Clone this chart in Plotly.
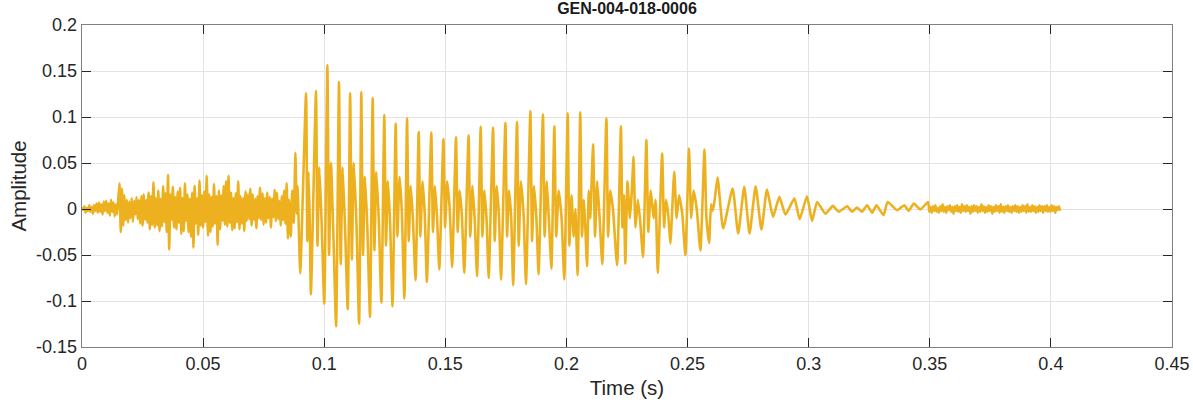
import numpy as np
import plotly.graph_objects as go

# ---------------- data ----------------
# Early unvoiced noise: samples every 0.0005 s starting at t = 0
noise1_start = 0.0
noise1_step = 0.0005
noise1_vals = [
    0.002, -0.001, 0.003, -0.004, 0.001, -0.002, 0.004, -0.003, 0.002, -0.005,
    0.004, -0.002, 0.006, -0.004, 0.007, -0.003, 0.005, -0.006, 0.008, -0.002,
    0.009, -0.004, 0.006, -0.007, 0.010, -0.003, 0.007, -0.008, 0.005, -0.006,
    0.012, 0.028, -0.025, 0.022, -0.018, 0.015, -0.012, 0.010, -0.015, 0.008,
    -0.010, 0.012, -0.014, 0.009, -0.006, 0.013, -0.011, 0.010, -0.016, 0.014,
    -0.018, 0.016, -0.012, 0.010, -0.015, 0.018, -0.022, 0.014, -0.017, 0.029,
    -0.020, 0.012, -0.018, 0.020, -0.024, 0.011, -0.019, 0.025, -0.014, 0.017,
    -0.025, 0.037, -0.044, 0.016, -0.012, 0.024, -0.020, 0.013, -0.022, 0.019,
    -0.015, 0.023, -0.027, 0.012, -0.024, 0.028, -0.013, 0.016, -0.025, 0.011,
    -0.030, 0.018, -0.042, 0.025, -0.016, 0.012, -0.028, 0.031, -0.018, 0.015,
    -0.020, 0.019, -0.014, 0.036, -0.029, 0.016, -0.025, 0.013, -0.019, 0.027,
    -0.016, 0.014, -0.039, 0.020, -0.022, 0.015, -0.013, 0.025, -0.017, 0.030,
    -0.019, 0.036, -0.015, 0.018, -0.023, 0.012, -0.021, 0.017, -0.014, 0.030,
    -0.022, 0.014, -0.016, 0.012, -0.024, 0.019, -0.013, 0.016, -0.011, 0.022,
    -0.018, 0.016, -0.012, 0.011, -0.021, 0.014, -0.010, 0.023, -0.012, 0.017,
    -0.017, 0.012, -0.015, 0.018, -0.010, 0.013, -0.020, 0.011, -0.009, 0.021,
    -0.013, 0.018, -0.011, 0.009, -0.018, 0.014, -0.012, 0.020, -0.016, 0.028,
    -0.032,
]

# Voiced part: (time, amplitude) extrema
voiced_t = [
    0.0855, 0.0862, 0.0868, 0.0874,
    0.0881, 0.0886, 0.0890, 0.0895, 0.0901,
    0.0925, 0.0930, 0.0935, 0.0940, 0.0945,
    0.0966, 0.0972, 0.0980, 0.0990, 0.1000,
    0.1013, 0.1020, 0.1028, 0.1038, 0.1049,
    0.1061, 0.1068, 0.1076, 0.1086, 0.1097,
    0.1107, 0.1114, 0.1122, 0.1133, 0.1144,
    0.1153, 0.1160, 0.1168, 0.1178, 0.1189,
    0.1200, 0.1207, 0.1215, 0.1225, 0.1236,
    0.1248, 0.1255, 0.1263, 0.1272, 0.1282,
    0.1295, 0.1302, 0.1311, 0.1320, 0.1331,
    0.1342, 0.1349, 0.1357, 0.1366, 0.1377,
    0.1390, 0.1397, 0.1406, 0.1415, 0.1424,
    0.1442, 0.1449, 0.1457, 0.1466, 0.1475,
    0.1492, 0.1499, 0.1508, 0.1518, 0.1528,
    0.1544, 0.1551, 0.1559, 0.1568, 0.1578,
    0.1596, 0.1603, 0.1612, 0.1621, 0.1631,
    0.1646, 0.1653, 0.1661, 0.1670, 0.1679,
    0.1697, 0.1704, 0.1712, 0.1721, 0.1730,
    0.1748, 0.1755, 0.1763, 0.1772, 0.1780,
    0.1796, 0.1803, 0.1812, 0.1823, 0.1833,
    0.1851, 0.1858, 0.1866, 0.1876, 0.1885,
    0.1903, 0.1910, 0.1919, 0.1929, 0.1938,
    0.1950, 0.1958, 0.1968, 0.1980, 0.1991,
    0.2005, 0.2012, 0.2021, 0.2030, 0.2037, 0.2046,
    0.2057, 0.2064, 0.2072, 0.2078, 0.2085, 0.2092, 0.2098,
    0.2110, 0.2118, 0.2127, 0.2137, 0.2148,
    0.2165, 0.2172, 0.2181, 0.2192, 0.2209,
    0.2225, 0.2231, 0.2237, 0.2243, 0.2252, 0.2262, 0.2270,
    0.2277, 0.2285, 0.2295, 0.2305, 0.2316,
    0.2330, 0.2338, 0.2348, 0.2360, 0.2368, 0.2377,
    0.2395, 0.2403, 0.2411, 0.2420, 0.2429,
    0.2445, 0.2455, 0.2465, 0.2478, 0.2491,
    0.2506, 0.2515, 0.2525, 0.2538, 0.2553,
    0.2570, 0.2578, 0.2589, 0.2597, 0.2604, 0.2612,
    0.2624, 0.2647, 0.2686, 0.2709, 0.2734, 0.2756, 0.2781, 0.2805,
    0.2828, 0.2853, 0.2879, 0.2904, 0.2941, 0.2963, 0.2993, 0.3014,
    0.3035, 0.3069, 0.3100, 0.3124, 0.3159, 0.3179, 0.3200, 0.3220,
    0.3241, 0.3262, 0.3280, 0.3309, 0.3326, 0.3365, 0.3395, 0.3413,
    0.3434, 0.3461, 0.3493,
]
voiced_v = [
    0.010, -0.030, 0.020, -0.015,
    0.061, -0.005, 0.025, -0.020, -0.070,
    0.126, -0.035, 0.040, -0.010, -0.093,
    0.1285, -0.040, 0.045, -0.020, -0.103,
    0.1565, -0.050, 0.050, -0.030, -0.1275,
    0.138, -0.060, 0.045, -0.020, -0.109,
    0.126, -0.055, 0.050, -0.015, -0.1246,
    0.127, -0.050, 0.035, -0.020, -0.117,
    0.121, -0.045, 0.040, -0.010, -0.1017,
    0.102, -0.040, 0.030, -0.015, -0.1058,
    0.093, -0.030, 0.035, 0.000, -0.0974,
    0.0985, -0.035, 0.025, -0.010, -0.0775,
    0.084, -0.030, 0.030, -0.005, -0.0793,
    0.083, -0.025, 0.025, -0.010, -0.0658,
    0.076, -0.020, 0.030, 0.000, -0.063,
    0.078, -0.025, 0.020, -0.005, -0.0695,
    0.080, -0.030, 0.025, -0.010, -0.0731,
    0.0894, -0.030, 0.020, -0.010, -0.075,
    0.0885, -0.035, 0.025, -0.005, -0.0767,
    0.0937, -0.030, 0.020, -0.010, -0.083,
    0.0948, -0.040, 0.030, -0.005, -0.0818,
    0.1064, -0.035, 0.025, -0.010, -0.071,
    0.1028, -0.030, 0.030, -0.020, -0.0648,
    0.090, -0.030, 0.020, -0.010, -0.0767,
    0.1039, -0.040, 0.015, -0.030, 0.000, -0.072,
    0.105, -0.030, 0.010, -0.020, -0.0622, 0.020, -0.010,
    0.0702, -0.030, 0.030, -0.010, -0.060,
    0.0985, -0.030, 0.020, 0.000, -0.0612,
    0.090, -0.020, 0.015, -0.0593, 0.030, -0.010, 0.020,
    0.0567, -0.020, 0.010, -0.015, -0.052,
    0.0749, -0.025, 0.020, -0.010, 0.010, -0.0695,
    0.0604, -0.020, 0.010, -0.005, -0.0376,
    0.0404, -0.010, 0.015, -0.005, -0.0503,
    0.0658, -0.010, 0.020, 0.000, -0.045,
    0.0647, -0.010, -0.0369, 0.005, -0.002, 0.010,
    0.0343, -0.0212, 0.0223, -0.0267, 0.024, -0.0267, 0.0248, -0.0223,
    0.0212, -0.0086, 0.0132, -0.006, 0.0114, -0.011, 0.0139, -0.013,
    0.0077, -0.005, 0.0034, -0.003, 0.003, -0.003, 0.0016, -0.003,
    0.004, -0.004, 0.004, -0.0067, 0.0077, -0.0013, 0.004, -0.002,
    0.006, -0.0005, 0.0077,
]

# Late low-level noise: samples every 0.0005 s starting at t = 0.3498
noise2_start = 0.3498
noise2_step = 0.0005
noise2_vals = [
    -0.003, 0.002, -0.004, 0.003, -0.002, 0.004, -0.003, 0.001, -0.004, 0.003,
    -0.002, 0.005, -0.003, 0.002, -0.004, 0.003, -0.001, 0.004, -0.003, 0.002,
    -0.005, 0.003, -0.002, 0.004, -0.003, 0.002, -0.004, 0.005, -0.002, 0.003,
    -0.003, 0.004, -0.002, 0.002, -0.005, 0.003, -0.003, 0.004, -0.002, 0.003,
    -0.004, 0.002, -0.003, 0.005, -0.002, 0.003, -0.004, 0.002, -0.003, 0.004,
    -0.002, 0.003, -0.005, 0.002, -0.003, 0.004, -0.002, 0.003, -0.004, 0.005,
    -0.003, 0.002, -0.004, 0.003, -0.002, 0.004, -0.003, 0.002, -0.004, 0.003,
    -0.002, 0.004, -0.003, 0.003, -0.004, 0.002, -0.003, 0.004, -0.002, 0.003,
    -0.004, 0.005, -0.003, 0.002, -0.003, 0.004, -0.002, 0.003, -0.004, 0.002,
    -0.003, 0.004, -0.002, 0.003, -0.004, 0.003, -0.002, 0.004, -0.003, 0.002,
    -0.003, 0.004, -0.002, 0.003, -0.004, 0.002, -0.001, 0.003, -0.002,
]

title_text = "GEN-004-018-0006"
x_label = "Time (s)"
y_label = "Amplitude"
x_tickvals = [0, 0.05, 0.1, 0.15, 0.2, 0.25, 0.3, 0.35, 0.4, 0.45]
x_ticktext = ["0", "0.05", "0.1", "0.15", "0.2", "0.25", "0.3", "0.35", "0.4", "0.45"]
y_tickvals = [-0.15, -0.1, -0.05, 0, 0.05, 0.1, 0.15, 0.2]
y_ticktext = ["-0.15", "-0.1", "-0.05", "0", "0.05", "0.1", "0.15", "0.2"]

# ---------------- assemble series ----------------
t1 = noise1_start + noise1_step * np.arange(len(noise1_vals))
t2 = noise2_start + noise2_step * np.arange(len(noise2_vals))
t_all = np.concatenate([t1, np.array(voiced_t), t2])
v_all = np.concatenate([np.array(noise1_vals), np.array(voiced_v), np.array(noise2_vals)])

FONT = "Liberation Sans, Arial, sans-serif"

fig = go.Figure()
fig.add_trace(go.Scatter(
    x=t_all, y=v_all, mode="lines",
    line=dict(color="#EDB120", width=2.6, shape="spline", smoothing=0.5),
    showlegend=False, hoverinfo="skip",
))

axis_common = dict(
    showline=True, linecolor="#808080", linewidth=1.3, mirror="allticks",
    ticks="inside", ticklen=9, tickcolor="#262626", tickwidth=1,
    showgrid=True, gridcolor="#e3e3e3", gridwidth=1,
    zeroline=False, automargin=False,
    tickfont=dict(family=FONT, size=18, color="#262626"),
)

fig.update_layout(
    width=1193, height=404,
    margin=dict(l=82, r=21, t=25, b=57, autoexpand=False),
    paper_bgcolor="white", plot_bgcolor="white",
    title=dict(
        text="<b>" + title_text + "</b>",
        x=0.5, xref="paper", xanchor="center",
        y=1, yref="container", yanchor="top", pad=dict(t=3),
        font=dict(family=FONT, size=16, color="#1a1a1a"),
    ),
    xaxis=dict(range=[0, 0.45], tickvals=x_tickvals, ticktext=x_ticktext,
               title=dict(text=x_label, standoff=7,
                          font=dict(family=FONT, size=20.5, color="#262626")),
               **axis_common),
    yaxis=dict(range=[-0.15, 0.2], tickvals=y_tickvals, ticktext=y_ticktext,
               title=dict(text=y_label, standoff=4,
                          font=dict(family=FONT, size=20.5, color="#262626")),
               **axis_common),
)

fig.write_html("out.html",
               config={"displayModeBar": False, "staticPlot": True},
               post_script="document.body.style.margin='0';document.body.style.overflow='hidden';")
